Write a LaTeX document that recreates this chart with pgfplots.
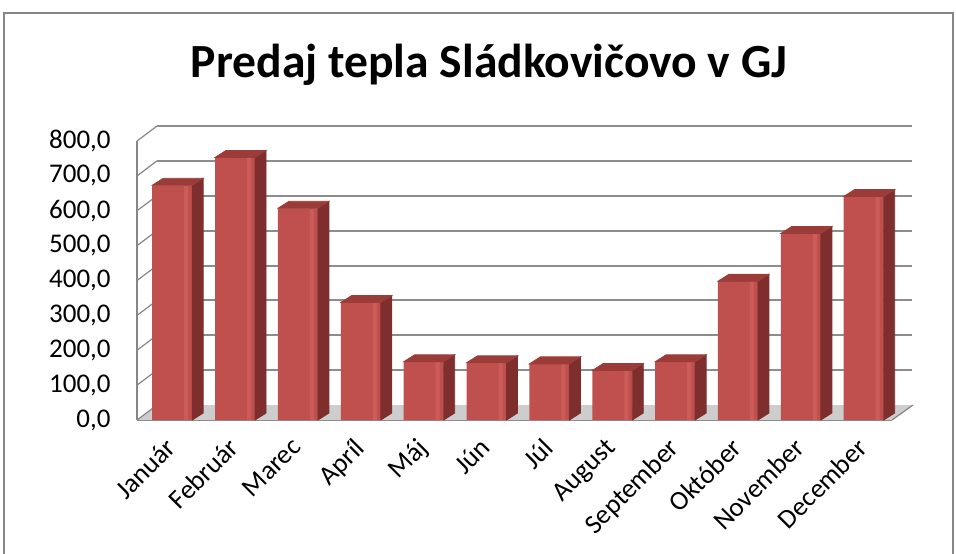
\documentclass[border=0pt]{standalone}
\usepackage{pgfplots}
\usepackage{pgfplotstable}
\pgfplotsset{compat=1.18}
\usepackage{fontspec}
\setmainfont{Carlito}
\definecolor{barfront}{RGB}{192,80,77}
\definecolor{barlight}{RGB}{204,92,89}
\definecolor{barside}{RGB}{126,46,44}
\definecolor{bartop}{RGB}{155,60,57}
\definecolor{framegray}{RGB}{134,134,134}
\definecolor{gridgray}{RGB}{140,140,140}
\definecolor{floorgray}{RGB}{205,205,205}

\pgfplotstableread{
x y
0 673
1 753
2 607
3 337
4 167
5 164
6 161
7 142
8 167
9 398
10 535
11 641
}\heat

\begin{document}
\begin{tikzpicture}
\useasboundingbox (0,0) rectangle (478pt,276.5pt);
% outer frame
\draw[framegray, line width=1pt] (2pt,-1pt) -- (2pt,270pt) -- (476.5pt,270pt) -- (476.5pt,-1pt);
% title
\node[anchor=base, inner sep=0pt, font=\bfseries\fontsize{23.8}{28}\selectfont] at (244.5pt,238pt) {Predaj tepla Sládkovičovo v GJ};

% back wall with gridlines
\begin{axis}[
  at={(78.5pt,74pt)}, anchor=south west, scale only axis,
  width=377.5pt, height=139.5pt,
  xmin=0, xmax=1, ymin=0, ymax=800,
  axis line style={draw=none},
  xtick=\empty, ytick={100,200,...,800}, yticklabels={},
  major tick length=0pt,
  ymajorgrids, grid style={gridgray, line width=1pt},
]
\addplot[draw=none] coordinates {(0,0)};
\end{axis}

% front: floor, left wall, bars
\begin{axis}[
  at={(68.5pt,66.5pt)}, anchor=south west, scale only axis,
  width=377.5pt, height=139.5pt,
  xmin=-0.56, xmax=11.45, ymin=0, ymax=800,
  axis x line*=bottom, axis y line*=left,
  axis line style={framegray, line width=1pt, -},
  ytick={0,100,...,800},
  yticklabels={{0,0},{100,0},{200,0},{300,0},{400,0},{500,0},{600,0},{700,0},{800,0}},
  xtick={0,...,11},
  xticklabels={Január,Február,Marec,Apríl,Máj,Jún,Júl,August,September,Október,November,December},
  major tick length=0pt,
  tick label style={font=\fontsize{13.5}{16}\selectfont},
  yticklabel style={anchor=east, inner sep=0pt, xshift=-13pt},
  xticklabel style={yshift=-8pt, xshift=-4pt, rotate=45, anchor=north east, inner sep=0pt},
  clip=false,
]
% floor
\fill[floorgray] (rel axis cs:0,0) -- (rel axis cs:1,0) -- ++(10.5pt,7.5pt) -- ++(-377.5pt,0pt) -- cycle;
\draw[framegray, line width=0.6pt] (rel axis cs:1,0) -- ++(10.5pt,7.5pt);
% left wall diagonals
\draw[framegray, line width=0.6pt] (rel axis cs:0,0) -- ++(10pt,7.5pt);
\draw[framegray, line width=0.6pt] (rel axis cs:0,0.125) -- ++(10pt,7.5pt);
\draw[framegray, line width=0.6pt] (rel axis cs:0,0.25) -- ++(10pt,7.5pt);
\draw[framegray, line width=0.6pt] (rel axis cs:0,0.375) -- ++(10pt,7.5pt);
\draw[framegray, line width=0.6pt] (rel axis cs:0,0.5) -- ++(10pt,7.5pt);
\draw[framegray, line width=0.6pt] (rel axis cs:0,0.625) -- ++(10pt,7.5pt);
\draw[framegray, line width=0.6pt] (rel axis cs:0,0.75) -- ++(10pt,7.5pt);
\draw[framegray, line width=0.6pt] (rel axis cs:0,0.875) -- ++(10pt,7.5pt);
\draw[framegray, line width=0.6pt] (rel axis cs:0,1) -- ++(10pt,7.5pt);
% side and top faces of the columns
\addplot[only marks, mark=*, mark size=0pt, scatter,
  visualization depends on={rawy \as \rawy},
  scatter/@pre marker code/.code={%
    \begingroup
    \pgfkeys{/pgf/fpu=false}%
    \pgfmathsetlengthmacro\H{\rawy*0.174375pt}%
    \pgfmathsetlengthmacro\Hb{3.5pt-\H}%
    \fill[barside] (10pt,0pt) -- (15.5pt,3.5pt) -- (15.5pt,\Hb) -- (10pt,-\H) -- cycle;
    \fill[bartop] (-10pt,0pt) -- (10pt,0pt) -- (15.5pt,3.5pt) -- (-4.5pt,3.5pt) -- cycle;
    \endgroup
  },
  scatter/@post marker code/.code={},
] table[x=x, y=y] {\heat};
% front faces
\addplot[ybar, bar width=20pt, bar shift=0pt, fill=barfront, draw=none] table[x=x, y=y] {\heat};
% light highlight near the right edge of each front face
\addplot[ybar, bar width=2pt, bar shift=7pt, fill=barlight, draw=none] table[x=x, y=y] {\heat};
\end{axis}
\end{tikzpicture}
\end{document}
